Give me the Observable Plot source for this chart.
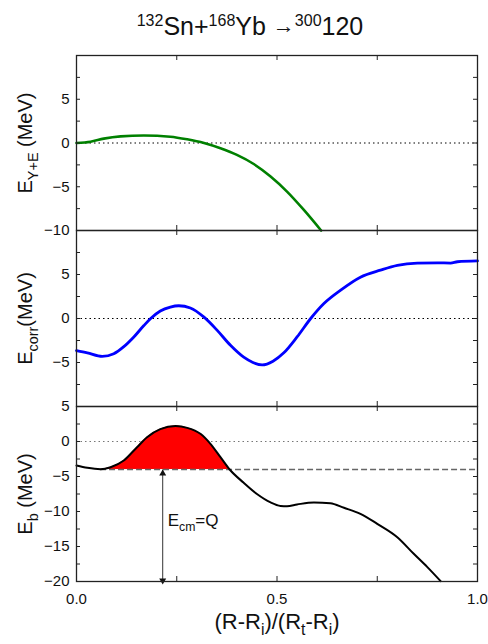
<!DOCTYPE html>
<html><head><meta charset="utf-8">
<script src="https://cdn.jsdelivr.net/npm/d3@7"></script>
<script src="https://cdn.jsdelivr.net/npm/@observablehq/plot@0.6"></script>
<style>
body{margin:0;background:#fff;font-family:"Liberation Sans",Arial,sans-serif;}
#wrap{position:relative;width:488px;height:644px;overflow:hidden;background:#fff;}
#title{position:absolute;top:6px;left:6px;width:488px;text-align:center;font-size:25px;line-height:30px;color:#111;white-space:nowrap;}
#title .sup{font-size:16px;vertical-align:9px;}
#title .arr{font-size:22px;vertical-align:2px;}
.panel{position:absolute;left:0;}
</style></head><body>
<div id="wrap">
<div id="title"><span class="sup">132</span>Sn+<span class="sup">168</span>Yb <span class="arr">→</span><span class="sup">300</span>120</div>
</div>
<script>
// ---- data ----
// Panel 1: E_{Y+E}
const xYE = [0, 0.035, 0.068, 0.11, 0.168, 0.234, 0.276, 0.318, 0.359, 0.4, 0.442, 0.484, 0.525, 0.567, 0.61];
const yYE = [0, 0.15, 0.5, 0.76, 0.86, 0.72, 0.42, 0, -0.6, -1.36, -2.4, -3.83, -5.55, -7.65, -10];
// Panel 2: E_corr
const xCorr = [0, 0.027, 0.064, 0.093, 0.118, 0.143, 0.168, 0.185, 0.209, 0.234, 0.255, 0.284, 0.318, 0.351, 0.384, 0.417, 0.44, 0.463, 0.49, 0.517, 0.55, 0.584, 0.617, 0.658, 0.708, 0.758, 0.8, 0.85, 0.9, 0.933, 0.95, 1.0];
const yCorr = [-3.65, -3.9, -4.3, -4.0, -3.2, -2.1, -0.8, 0, 0.85, 1.3, 1.45, 1.2, 0.15, -1.35, -3.05, -4.4, -5.0, -5.27, -4.85, -3.9, -2.1, 0, 1.7, 3.2, 4.7, 5.5, 6.05, 6.3, 6.33, 6.3, 6.45, 6.55];
// Panel 3: E_b
const xEb = [0, 0.027, 0.06, 0.085, 0.118, 0.151, 0.176, 0.209, 0.247, 0.276, 0.309, 0.334, 0.359, 0.382, 0.417, 0.45, 0.484, 0.509, 0.525, 0.55, 0.592, 0.633, 0.667, 0.708, 0.75, 0.8, 0.841, 0.875, 0.908];
const yEb = [-3.43, -3.76, -3.95, -3.67, -2.71, -0.81, 0.6, 1.76, 2.2, 1.95, 1.1, -0.33, -2.24, -4, -5.9, -7.5, -8.7, -9.2, -9.25, -9.0, -8.7, -8.81, -9.47, -10.33, -11.76, -13.67, -16.04, -17.95, -19.95];
const Q = -4;            // E_cm = Q level
const qStart = 0.06;     // left crossing of the barrier with Q
const qEnd = 0.382;      // right crossing
const arrowX = 0.215;    // arrow position
const ecmLabelY = -11.3;

// ticks and labels
const xTicks = [0, 0.25, 0.5, 0.75, 1.0];
const xTickLabels = [0, 0.5, 1.0];
const y1Labels = [-10, -5, 0, 5];
const y1Ticks = [-7.5, -5, -2.5, 0, 2.5, 5, 7.5];
const y2Labels = [-5, 0, 5];
const y2Ticks = [-7.5, -5, -2.5, 0, 2.5, 5, 7.5];
const y3Labels = [-20, -15, -10, -5, 0, 5];
const y3Ticks = [-17.5, -15, -12.5, -10, -7.5, -5, -2.5, 0, 2.5];
const yLabel1 = "E_{Y+E} (MeV)";
const yLabel2 = "E_{corr}(MeV)";
const yLabel3 = "E_{b} (MeV)";
const xLabel = "(R-R_{i})/(R_{t}-R_{i})";
const ecmLabel = "E_{cm}=Q";

const zip = (xs, ys) => xs.map((x, i) => ({x, y: ys[i]}));
const dYE = zip(xYE, yYE), dCorr = zip(xCorr, yCorr), dEb = zip(xEb, yEb);
const dFill = dEb.filter(d => d.x >= qStart && d.x <= qEnd);

const W = 488, ML = 76, MR = 11, MT = 5;
const PW = W - ML - MR;
const FONT = "Liberation Sans, Arial, sans-serif";
const INK = "#222";
const CURVE = "monotone-x";

function frameMarks(plotH, yTicks) {
  return [
    Plot.tickY(yTicks, {y: d => d, insetRight: PW - 4, stroke: INK}),
    Plot.tickY(yTicks, {y: d => d, insetLeft: PW - 4, stroke: INK}),
    Plot.tickX(xTicks, {x: d => d, insetBottom: plotH - 5, stroke: INK}),
    Plot.tickX(xTicks, {x: d => d, insetTop: plotH - 5, stroke: INK}),
    Plot.frame({stroke: INK, strokeWidth: 1.3})
  ];
}
function yTitle(lab) {
  return Plot.text([lab], {text: d => d, frameAnchor: "left", textAnchor: "middle", dx: -51, rotate: -90, fontSize: 20, fill: "#111"});
}
function yAxis(labels) {
  return Plot.axisY({ticks: labels, tickSize: 0, tickPadding: 7, fontSize: 15, label: null});
}

function richify(svg) {
  d3.select(svg).selectAll("text").each(function() {
    const t = this.textContent;
    if (!/[_^]\{/.test(t)) return;
    const fs = parseFloat(getComputedStyle(this).fontSize) || 20;
    const sel = d3.select(this);
    sel.text(null);
    const re = /([_^])\{([^}]*)\}/g;
    let last = 0, m; const parts = [];
    while ((m = re.exec(t))) {
      if (m.index > last) parts.push({s: t.slice(last, m.index), k: 0});
      parts.push({s: m[2], k: m[1] === "_" ? 1 : -1});
      last = re.lastIndex;
    }
    if (last < t.length) parts.push({s: t.slice(last), k: 0});
    let cur = 0;
    for (const p of parts) {
      const off = p.k * fs * 0.28;
      sel.append("tspan").attr("dy", off - cur).attr("font-size", p.k ? fs * 0.72 : fs).text(p.s);
      cur = off;
    }
  });
}

const wrap = document.getElementById("wrap");
function place(svg, top) {
  svg.classList.add("panel");
  svg.style.top = top + "px";
  wrap.appendChild(svg);
  richify(svg);
}
const style = {fontFamily: FONT, fontSize: "15px", background: "transparent", overflow: "visible", color: "#111"};

// Panel 1
const h1 = 175;
const p1 = Plot.plot({
  width: W, height: MT + h1 + 5, marginLeft: ML, marginRight: MR, marginTop: MT, marginBottom: 5,
  style,
  x: {domain: [0, 1], axis: null},
  y: {domain: [-10, 10]},
  marks: [
    Plot.ruleY([0], {stroke: "#000", strokeDasharray: "1.5,3", strokeWidth: 1}),
    Plot.line(dYE, {x: "x", y: "y", stroke: "#008000", strokeWidth: 2.6, curve: CURVE}),
    ...frameMarks(h1, y1Ticks),
    yAxis(y1Labels),
    yTitle(yLabel1)
  ]
});
place(p1, 50);

// Panel 2
const h2 = 176;
const p2 = Plot.plot({
  width: W, height: MT + h2 + 5, marginLeft: ML, marginRight: MR, marginTop: MT, marginBottom: 5,
  style,
  x: {domain: [0, 1], axis: null},
  y: {domain: [-10, 10]},
  marks: [
    Plot.ruleY([0], {stroke: "#000", strokeDasharray: "1.5,3", strokeWidth: 1}),
    Plot.line(dCorr, {x: "x", y: "y", stroke: "#0000ff", strokeWidth: 2.8, curve: CURVE}),
    ...frameMarks(h2, y2Ticks),
    yAxis(y2Labels),
    yTitle(yLabel2)
  ]
});
place(p2, 225);

// Panel 3
const h3 = 175;
const p3 = Plot.plot({
  width: W, height: MT + h3 + 63, marginLeft: ML, marginRight: MR, marginTop: MT, marginBottom: 63,
  style,
  x: {domain: [0, 1]},
  y: {domain: [-20, 5]},
  marks: [
    Plot.ruleY([0], {stroke: "#777", strokeDasharray: "1.5,3", strokeWidth: 1}),
    Plot.areaY(dFill, {x: "x", y1: Q, y2: "y", fill: "#ff0000", curve: CURVE}),
    Plot.ruleY([Q], {x1: qStart, x2: 1, stroke: "#666", strokeWidth: 1.5, strokeDasharray: "6,3"}),
    Plot.line(dEb, {x: "x", y: "y", stroke: "#000", strokeWidth: 2, curve: CURVE}),
    Plot.link([Q], {x1: arrowX, x2: arrowX, y1: Q, y2: -20, stroke: "#333", strokeWidth: 1}),
    Plot.dot([Q], {x: arrowX, y: Q, symbol: "triangle", r: 2.6, fill: "#111", stroke: null, dy: 4}),
    Plot.dot([-20], {x: arrowX, y: -20, symbol: "triangle", r: 2.6, fill: "#111", stroke: null, rotate: 180, dy: -1}),
    Plot.text([ecmLabel], {x: arrowX, y: ecmLabelY, text: d => d, textAnchor: "start", dx: 5, fontSize: 17, fill: "#111"}),
    ...frameMarks(h3, y3Ticks),
    yAxis(y3Labels),
    Plot.axisX({ticks: xTickLabels, tickSize: 0, tickPadding: 12, fontSize: 15, label: null, tickFormat: d3.format(".1f")}),
    yTitle(yLabel3),
    Plot.text([xLabel], {text: d => d, frameAnchor: "bottom", dy: 47, fontSize: 22, fill: "#111"})
  ]
});
place(p3, 401);
</script>
</body></html>
